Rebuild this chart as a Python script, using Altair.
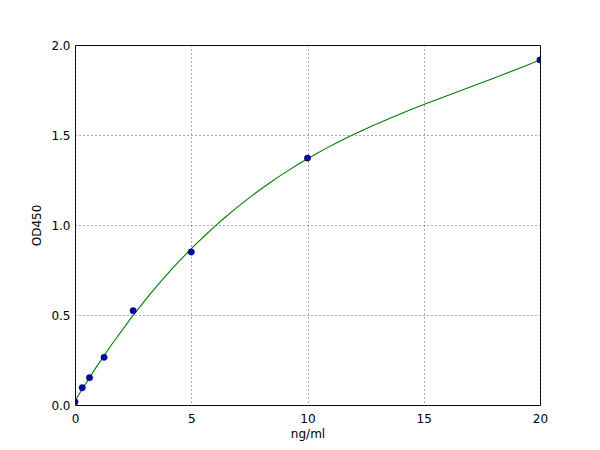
import altair as alt
import pandas as pd

conc = [0, 0.3125, 0.625, 1.25, 2.5, 5, 10, 20]
od = [0.017, 0.096, 0.152, 0.265, 0.524, 0.85, 1.372, 1.917]

df = pd.DataFrame({"conc": conc, "od": od})

xs = alt.Scale(domain=[0, 20], nice=False, zero=False)
ys = alt.Scale(domain=[0, 2.0], nice=False, zero=False)

common = dict(grid=True, gridDash=[1, 3], gridColor="#444444", gridOpacity=0.9,
              tickSize=0, domain=False, labelFlush=False,
              labelFont="DejaVu Sans", labelFontSize=12, labelColor="#000000",
              titleFont="DejaVu Sans", titleFontSize=12,
              titleFontWeight="normal", titleColor="#000000")

xaxis = alt.Axis(values=[0, 5, 10, 15, 20], format="d", title="ng/ml",
                 labelPadding=8, titlePadding=4, **common)
yaxis = alt.Axis(values=[0, 0.5, 1.0, 1.5, 2.0], format=".1f", title="OD450",
                 labelPadding=5, titlePadding=7, **common)

base = alt.Chart(df)

line = base.mark_line(color="#008000", strokeWidth=1.1, clip=True).transform_regression(
    "conc", "od", method="poly", order=3, extent=[0, 20]
).encode(
    x=alt.X("conc:Q", scale=xs, axis=xaxis),
    y=alt.Y("od:Q", scale=ys, axis=yaxis),
)

pts = base.mark_point(filled=True, color="#0000bb", size=40, opacity=1,
                      stroke="#000044", strokeWidth=0.5, clip=True).encode(
    x=alt.X("conc:Q", scale=xs),
    y=alt.Y("od:Q", scale=ys),
)

chart = alt.layer(line, pts).properties(
    width=465, height=360,
    autosize=alt.AutoSizeParams(type="none"),
    padding={"left": 67, "top": 37, "right": 10, "bottom": 40},
    background="#ffffff",
).configure_view(stroke="#000000", strokeWidth=1)

chart.save("out.html", embed_options={"renderer": "svg", "actions": False})
